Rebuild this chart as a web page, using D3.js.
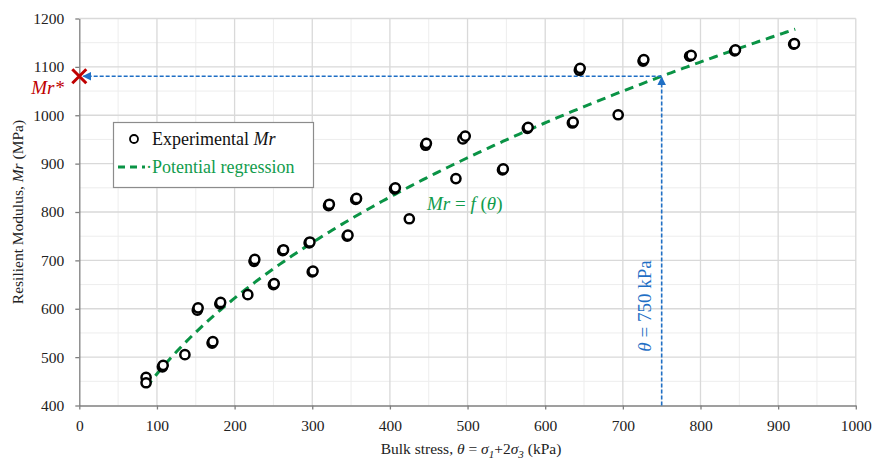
<!DOCTYPE html>
<html>
<head>
<meta charset="utf-8">
<script src="https://cdn.jsdelivr.net/npm/d3@7"></script>
<style>
  body { margin: 0; background: #fff; }
  svg { display: block; font-family: "Liberation Serif", "Times New Roman", serif; }
  .grid-major line { stroke: #d9d9d9; stroke-width: 1.3; }
  .grid-minor line { stroke: #ededed; stroke-width: 1; }
  .axis path, .axis line { stroke: #7f7f7f; stroke-width: 1.3; }
  .axis text { font-family: "Liberation Serif", "Times New Roman", serif; font-size: 15.5px; fill: #222; }
</style>
</head>
<body>
<svg width="873" height="459"></svg>
<script>
(function() {

  // experimental points (kPa, MPa) - replicates
  const bulkStress = [86, 86, 107, 108, 136, 152, 153, 171, 172, 181, 182, 217, 225, 226, 250, 251,
                      262, 263, 296, 297, 300, 301, 321, 322, 345, 346, 356, 357, 406, 407, 425,
                      446, 447, 485, 494, 497, 545, 546, 577, 578, 635, 636, 644, 645, 694, 726, 727,
                      786, 788, 844, 845, 920, 921]
  const resilientModulus = [458, 447, 480, 483, 505, 597, 602, 529, 532, 610, 613, 629, 698, 702, 650, 652,
                            720, 722, 736, 738, 676, 678, 813, 816, 750, 752, 826, 828, 848, 850, 786,
                            938, 942, 869, 951, 957, 887, 889, 973, 975, 984, 986, 1093, 1097, 1001, 1112, 1115,
                            1122, 1124, 1133, 1135, 1147, 1148]

  // potential regression Mr = k * theta^n
  const regK = 67.9
  const regN = 0.418
  const regRange = [86, 923]

  const thetaTarget = 750
  const xTicks = [0, 100, 200, 300, 400, 500, 600, 700, 800, 900, 1000]
  const yTicks = [400, 500, 600, 700, 800, 900, 1000, 1100, 1200]

  const green = '#0a9345'
  const greenText = '#119c4c'
  const blue = '#1f6fc5'
  const red = '#c00000'

  const svg = d3.select('svg')

  const x = d3.scaleLinear().domain([0, 1000]).range([79.3, 855.8])
  const y = d3.scaleLinear().domain([400, 1200]).range([405.5, 18.5])

  const defs = svg.append('defs')
  defs.append('marker')
    .attr('id', 'arrow')
    .attr('viewBox', '0 0 10 10')
    .attr('refX', 9).attr('refY', 5)
    .attr('markerWidth', 9).attr('markerHeight', 9)
    .attr('markerUnits', 'userSpaceOnUse')
    .attr('orient', 'auto')
    .append('path')
    .attr('d', 'M0,0 L10,5 L0,10 z')
    .attr('fill', blue)

  // grid
  const minorX = d3.range(50, 1000, 100)
  const minorY = d3.range(450, 1200, 100)

  svg.append('g').attr('class', 'grid-minor')
    .call(g => g.selectAll('.vx').data(minorX).enter().append('line')
      .attr('x1', d => x(d)).attr('x2', d => x(d)).attr('y1', y(400)).attr('y2', y(1200)))
    .call(g => g.selectAll('.hy').data(minorY).enter().append('line')
      .attr('x1', x(0)).attr('x2', x(1000)).attr('y1', d => y(d)).attr('y2', d => y(d)))

  svg.append('g').attr('class', 'grid-major')
    .call(g => g.selectAll('.vx').data(xTicks.slice(1)).enter().append('line')
      .attr('x1', d => x(d)).attr('x2', d => x(d)).attr('y1', y(400)).attr('y2', y(1200)))
    .call(g => g.selectAll('.hy').data(yTicks.slice(1)).enter().append('line')
      .attr('x1', x(0)).attr('x2', x(1000)).attr('y1', d => y(d)).attr('y2', d => y(d)))

  // axes
  svg.append('g')
    .attr('class', 'axis')
    .attr('transform', `translate(0,${y(400)})`)
    .call(d3.axisBottom(x).tickValues(xTicks).tickFormat(d3.format('d'))
      .tickSize(4).tickPadding(10).tickSizeOuter(0))

  svg.append('g')
    .attr('class', 'axis')
    .attr('transform', `translate(${x(0)},0)`)
    .call(d3.axisLeft(y).tickValues(yTicks).tickFormat(d3.format('d'))
      .tickSize(4).tickPadding(11).tickSizeOuter(0))

  // axis titles
  const xTitle = svg.append('text')
    .attr('x', 471).attr('y', 454)
    .attr('text-anchor', 'middle')
    .style('font-size', '15.5px')
    .attr('fill', '#222')
  xTitle.append('tspan').text('Bulk stress, ')
  xTitle.append('tspan').attr('font-style', 'italic').text('θ')
  xTitle.append('tspan').text(' = ')
  xTitle.append('tspan').attr('font-style', 'italic').text('σ')
  xTitle.append('tspan').attr('font-style', 'italic').attr('dy', 4).style('font-size', '11px').text('1')
  xTitle.append('tspan').attr('dy', -4).text('+2')
  xTitle.append('tspan').attr('font-style', 'italic').text('σ')
  xTitle.append('tspan').attr('font-style', 'italic').attr('dy', 4).style('font-size', '11px').text('3')
  xTitle.append('tspan').attr('dy', -4).text(' (kPa)')

  const yTitle = svg.append('text')
    .attr('transform', 'translate(23,212) rotate(-90)')
    .attr('text-anchor', 'middle')
    .style('font-size', '15.5px')
    .attr('fill', '#222')
  yTitle.append('tspan').text('Resilient Modulus, ')
  yTitle.append('tspan').attr('font-style', 'italic').text('Mr')
  yTitle.append('tspan').text(' (MPa)')

  // regression curve
  const regPoints = d3.range(regRange[0], regRange[1] + 1, 4).map(t => [t, regK * Math.pow(t, regN)])
  const line = d3.line().x(d => x(d[0])).y(d => y(d[1]))

  svg.append('path')
    .datum(regPoints)
    .attr('d', line)
    .attr('fill', 'none')
    .attr('stroke', green)
    .attr('stroke-width', 3)
    .attr('stroke-dasharray', '9,6')

  // guide arrows for theta = 750
  const mrStar = regK * Math.pow(thetaTarget, regN)

  svg.append('line')
    .attr('x1', x(thetaTarget)).attr('y1', y(400))
    .attr('x2', x(thetaTarget)).attr('y2', y(mrStar) + 1)
    .attr('stroke', blue).attr('stroke-width', 1.6)
    .attr('stroke-dasharray', '4,2')
    .attr('marker-end', 'url(#arrow)')

  svg.append('line')
    .attr('x1', x(thetaTarget)).attr('y1', y(mrStar))
    .attr('x2', x(0) + 4).attr('y2', y(mrStar))
    .attr('stroke', blue).attr('stroke-width', 1.6)
    .attr('stroke-dasharray', '4,2')
    .attr('marker-end', 'url(#arrow)')

  // experimental points
  svg.append('g')
    .selectAll('circle')
    .data(bulkStress.map((t, i) => [t, resilientModulus[i]]))
    .enter()
    .append('circle')
    .attr('cx', d => x(d[0]))
    .attr('cy', d => y(d[1]))
    .attr('r', 4.6)
    .attr('fill', '#fff')
    .attr('stroke', '#000')
    .attr('stroke-width', 2.5)

  // Mr* marker
  const cx = x(0), cy = y(mrStar), s = 7
  svg.append('path')
    .attr('d', `M${cx - s},${cy - s}L${cx + s},${cy + s}M${cx - s},${cy + s}L${cx + s},${cy - s}`)
    .attr('stroke', red).attr('stroke-width', 3).attr('fill', 'none')

  svg.append('text')
    .attr('x', 64).attr('y', 94)
    .attr('text-anchor', 'end')
    .style('font-size', '19px')
    .attr('fill', red)
    .attr('font-style', 'italic')
    .text('Mr*')

  // annotations
  const fLabel = svg.append('text')
    .attr('x', 427).attr('y', 210)
    .style('font-size', '19px')
    .attr('fill', greenText)
  fLabel.append('tspan').attr('font-style', 'italic').text('Mr')
  fLabel.append('tspan').text(' = ')
  fLabel.append('tspan').attr('font-style', 'italic').text('f')
  fLabel.append('tspan').text(' (')
  fLabel.append('tspan').attr('font-style', 'italic').text('θ')
  fLabel.append('tspan').text(')')

  const tLabel = svg.append('text')
    .attr('transform', 'translate(651,306) rotate(-90)')
    .attr('text-anchor', 'middle')
    .style('font-size', '19px')
    .attr('fill', blue)
  tLabel.append('tspan').attr('font-style', 'italic').text('θ')
  tLabel.append('tspan').text(' = 750 kPa')

  // legend
  const legend = svg.append('g')
  legend.append('rect')
    .attr('x', 113.5).attr('y', 122.5).attr('width', 200).attr('height', 65)
    .attr('fill', '#fff').attr('stroke', '#8c8c8c').attr('stroke-width', 1.2)

  legend.append('circle')
    .attr('cx', 134).attr('cy', 139).attr('r', 4)
    .attr('fill', '#fff').attr('stroke', '#000').attr('stroke-width', 1.8)

  const l1 = legend.append('text')
    .attr('x', 152).attr('y', 145)
    .style('font-size', '18px')
    .attr('fill', '#111')
  l1.append('tspan').text('Experimental ')
  l1.append('tspan').attr('font-style', 'italic').text('Mr')

  legend.append('line')
    .attr('x1', 118).attr('x2', 145).attr('y1', 167).attr('y2', 167)
    .attr('stroke', green).attr('stroke-width', 3).attr('stroke-dasharray', '7,5')

  legend.append('text')
    .attr('x', 146).attr('y', 173)
    .style('font-size', '18px')
    .attr('fill', greenText)
    .text('·Potential regression')

})()
</script>
</body>
</html>
